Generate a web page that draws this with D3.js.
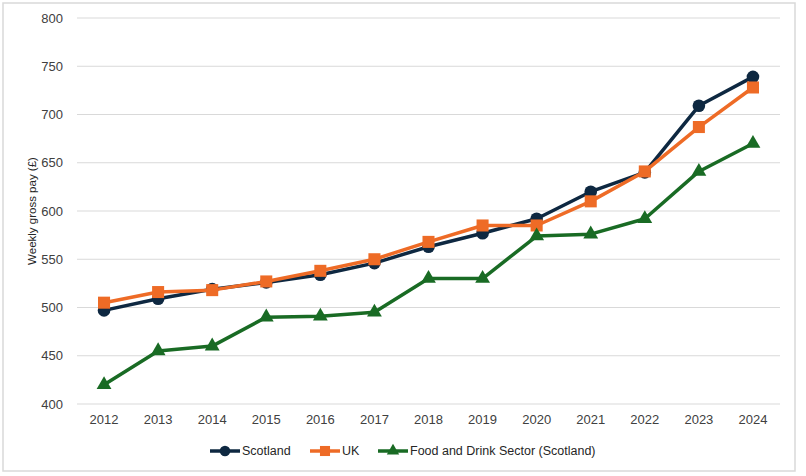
<!DOCTYPE html>
<html>
<head>
<meta charset="utf-8">
<script src="https://cdn.jsdelivr.net/npm/d3@7"></script>
<style>
  body { margin: 0; background: #fff; }
  svg text { font-family: "Liberation Sans", Arial, sans-serif; fill: #404040; }
</style>
</head>
<body>
<svg width="806" height="476"></svg>
<script>
const years    = ['2012','2013','2014','2015','2016','2017','2018','2019','2020','2021','2022','2023','2024'];
const scotland = [497, 509, 519, 526, 534, 546, 563, 577, 592, 620, 640, 709, 739];
const uk       = [505, 516, 518, 527, 538, 550, 568, 585, 585, 610, 641, 687, 728];
const foodDrink = [420, 455, 460, 490, 491, 495, 530, 530, 574, 576, 592, 641, 670];
const yTicks   = [400, 450, 500, 550, 600, 650, 700, 750, 800];

const series = [
    { name: 'Scotland', values: scotland, color: '#0E2841', symbol: d3.symbolCircle, size: 125 },
    { name: 'UK', values: uk, color: '#EE6B26', symbol: d3.symbolSquare, size: 145 },
    { name: 'Food and Drink Sector (Scotland)', values: foodDrink, color: '#196B24', symbol: d3.symbolTriangle, size: 95 }
];

const svg = d3.select('svg');

// outer frame
svg.append('rect')
    .attr('x', 3).attr('y', 3)
    .attr('width', 792).attr('height', 468)
    .attr('fill', '#fff')
    .attr('stroke', '#d9d9d9')
    .attr('stroke-width', 1.5);

const margin = { top: 18, left: 77, right: 26, bottom: 72 };
const width = 806 - margin.left - margin.right;
const height = 476 - margin.top - margin.bottom;
const g = svg.append('g').attr('transform', `translate(${margin.left},${margin.top})`);

// Scales
const x = d3.scaleBand().domain(years).range([0, width]);
const y = d3.scaleLinear().domain([400, 800]).range([height, 0]);
const cx = d => x(d) + x.bandwidth() / 2;

// Gridlines
g.append('g')
    .selectAll('line')
    .data(yTicks)
    .enter().append('line')
    .attr('x1', 0).attr('x2', width)
    .attr('y1', d => y(d)).attr('y2', d => y(d))
    .attr('stroke', '#d9d9d9')
    .attr('stroke-width', 1);

// Axes
const yAxis = g.append('g')
    .call(d3.axisLeft(y).tickValues(yTicks).tickSize(0).tickPadding(14));
yAxis.select('.domain').remove();
yAxis.selectAll('text').attr('font-size', 13).style('fill', '#404040');

const xAxis = g.append('g')
    .attr('transform', `translate(0,${height})`)
    .call(d3.axisBottom(x).tickSize(0).tickPadding(11));
xAxis.select('.domain').remove();
xAxis.selectAll('text').attr('font-size', 13).style('fill', '#404040');

svg.append('text')
    .attr('transform', `translate(36,${margin.top + height / 2}) rotate(-90)`)
    .attr('text-anchor', 'middle')
    .attr('font-size', 11.5)
    .style('fill', '#262626')
    .text('Weekly gross pay (£)');

// Lines and markers
const line = d3.line()
    .x((d, i) => cx(years[i]))
    .y(d => y(d));

series.forEach(s => {
    g.append('path')
        .datum(s.values)
        .attr('fill', 'none')
        .attr('stroke', s.color)
        .attr('stroke-width', 3.5)
        .attr('stroke-linejoin', 'round')
        .attr('d', line);
    g.selectAll(null)
        .data(s.values)
        .enter().append('path')
        .attr('transform', (d, i) => `translate(${cx(years[i])},${y(d)})`)
        .attr('d', d3.symbol().type(s.symbol).size(s.size))
        .attr('fill', s.color);
});

// Legend
const legendX = [210, 310, 378];
const legend = svg.append('g').attr('transform', 'translate(0,451)');
series.forEach((s, i) => {
    const lg = legend.append('g').attr('transform', `translate(${legendX[i]},0)`);
    lg.append('line')
        .attr('x1', 0).attr('x2', 30)
        .attr('stroke', s.color)
        .attr('stroke-width', 3.5);
    lg.append('path')
        .attr('transform', 'translate(15,0)')
        .attr('d', d3.symbol().type(s.symbol).size(s.size * 0.7))
        .attr('fill', s.color);
    lg.append('text')
        .attr('x', 32)
        .attr('dy', '0.35em')
        .attr('font-size', 12.5)
        .style('fill', '#262626')
        .text(s.name);
});
</script>
</body>
</html>
